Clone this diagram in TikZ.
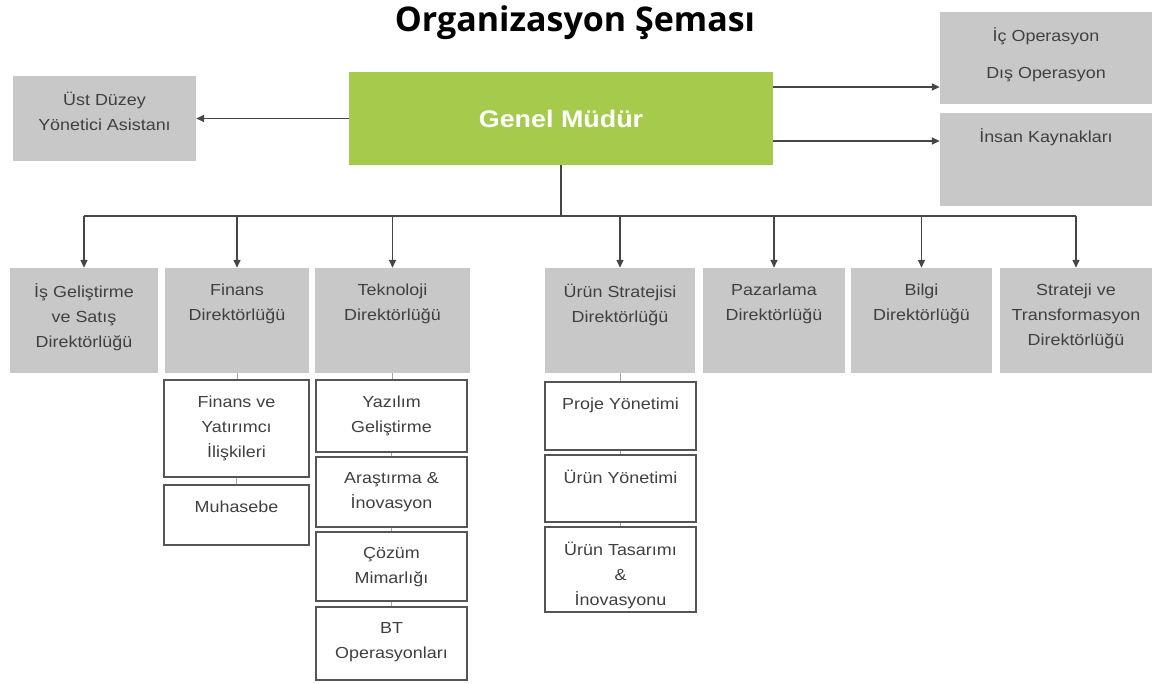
\documentclass[tikz,border=0pt]{standalone}
\usepackage{fontspec}
\setmainfont{Liberation Sans}[FakeStretch=1.12]
\newfontfamily\titlefont{Open Sans}
\usetikzlibrary{arrows.meta}

\definecolor{gmgreen}{RGB}{166,202,76}
\definecolor{boxgray}{RGB}{200,200,200}
\definecolor{txtgray}{RGB}{64,64,64}
\definecolor{linegray}{RGB}{70,70,70}
\definecolor{rimgray}{RGB}{85,85,85}

\tikzset{
  boxsize/.style 2 args={minimum width=#1pt, minimum height=#2pt},
  boxtext/.style={anchor=north, yshift=-16pt, align=center, inner sep=0pt,
    text=txtgray, font=\fontsize{16}{25}\selectfont},
  toptext/.style={label={[boxtext]north:{#1}}},
  graybox/.style={fill=boxgray, inner sep=0pt},
  unitbox/.style={draw=rimgray, line width=1.3pt, fill=white, inner sep=0pt},
  wire/.style={draw=linegray, line width=1.5pt},
  arr/.style={wire, -{Triangle[length=8pt,width=7pt]}},
  tie/.style={draw=gray!70, line width=0.8pt}
}

\begin{document}
\begin{tikzpicture}[x=1pt, y=-1pt]
  \useasboundingbox (0,0) rectangle (1168,684);

  \node (title) at (575,23) {\titlefont\bfseries\fontsize{34}{34}\selectfont Organizasyon Şeması};

  % top level
  \node[graybox, boxsize={424}{93}, fill=gmgreen, text=white,
    font=\bfseries\fontsize{24}{24}\selectfont] (gm) at (561,118.5) {Genel Müdür};
  \node[graybox, boxsize={183}{85}, toptext={Üst Düzey\\Yönetici Asistanı}] (ust) at (104.5,118.5) {};
  \node[graybox, boxsize={212}{92}, toptext={İç Operasyon\\[12pt]Dış Operasyon}] (icop) at (1046,58) {};
  \node[graybox, boxsize={212}{93}, toptext={İnsan Kaynakları}] (ik) at (1046,159.5) {};

  % directors
  \node[graybox, boxsize={148}{105}, toptext={İş Geliştirme\\ve Satış\\Direktörlüğü}] (is) at (84,320.5) {};
  \node[graybox, boxsize={144}{105}, toptext={Finans\\Direktörlüğü}] (fin) at (237,320.5) {};
  \node[graybox, boxsize={155}{105}, toptext={Teknoloji\\Direktörlüğü}] (tek) at (392.5,320.5) {};
  \node[graybox, boxsize={150}{105}, toptext={Ürün Stratejisi\\Direktörlüğü}] (urs) at (620,320.5) {};
  \node[graybox, boxsize={142}{105}, toptext={Pazarlama\\Direktörlüğü}] (paz) at (774,320.5) {};
  \node[graybox, boxsize={141}{105}, toptext={Bilgi\\Direktörlüğü}] (bil) at (921.5,320.5) {};
  \node[graybox, boxsize={152}{105}, toptext={Strateji ve\\Transformasyon\\Direktörlüğü}] (str) at (1076,320.5) {};

  % units
  \node[unitbox, boxsize={145}{97}, toptext={Finans ve\\Yatırımcı\\İlişkileri}] (fiy) at (236.5,428.5) {};
  \node[unitbox, boxsize={145}{60}, toptext={Muhasebe}] (muh) at (236.5,515) {};
  \node[unitbox, boxsize={151}{72}, toptext={Yazılım\\Geliştirme}] (yaz) at (391.5,416) {};
  \node[unitbox, boxsize={151}{70}, toptext={Araştırma \&\\İnovasyon}] (ara) at (391.5,492) {};
  \node[unitbox, boxsize={151}{69}, toptext={Çözüm\\Mimarlığı}] (coz) at (391.5,566.5) {};
  \node[unitbox, boxsize={151}{73}, toptext={BT\\Operasyonları}] (bt) at (391.5,643.5) {};
  \node[unitbox, boxsize={151}{68}, toptext={Proje Yönetimi}] (pro) at (620.5,416) {};
  \node[unitbox, boxsize={151}{67}, toptext={Ürün Yönetimi}] (uyo) at (620.5,488.5) {};
  \node[unitbox, boxsize={151}{85}, toptext={Ürün Tasarımı\\\&\\İnovasyonu}] (uta) at (620.5,569.5) {};

  % connectors
  \coordinate (gmhi) at ([yshift=31.5pt]gm.east);
  \coordinate (gmlo) at ([yshift=-22.5pt]gm.east);
  \coordinate (bus) at (561,216);
  \draw[arr] (gm.west) -- (ust.east);
  \draw[arr] (gmhi) -- (gmhi -| icop.west);
  \draw[arr] (gmlo) -- (gmlo -| ik.west);
  \draw[wire] (gm.south) -- (bus);
  \draw[wire] (bus -| is.north) -- (bus -| str.north);
  \foreach \d in {is,fin,tek,urs,paz,bil,str}
    \draw[arr] (bus -| \d.north) -- (\d.north);
  \foreach \a/\b in {fin/fiy,fiy/muh,tek/yaz,yaz/ara,ara/coz,coz/bt,urs/pro,pro/uyo,uyo/uta}
    \draw[tie] (\a.south) -- (\a.south |- \b.north);
\end{tikzpicture}
\end{document}
